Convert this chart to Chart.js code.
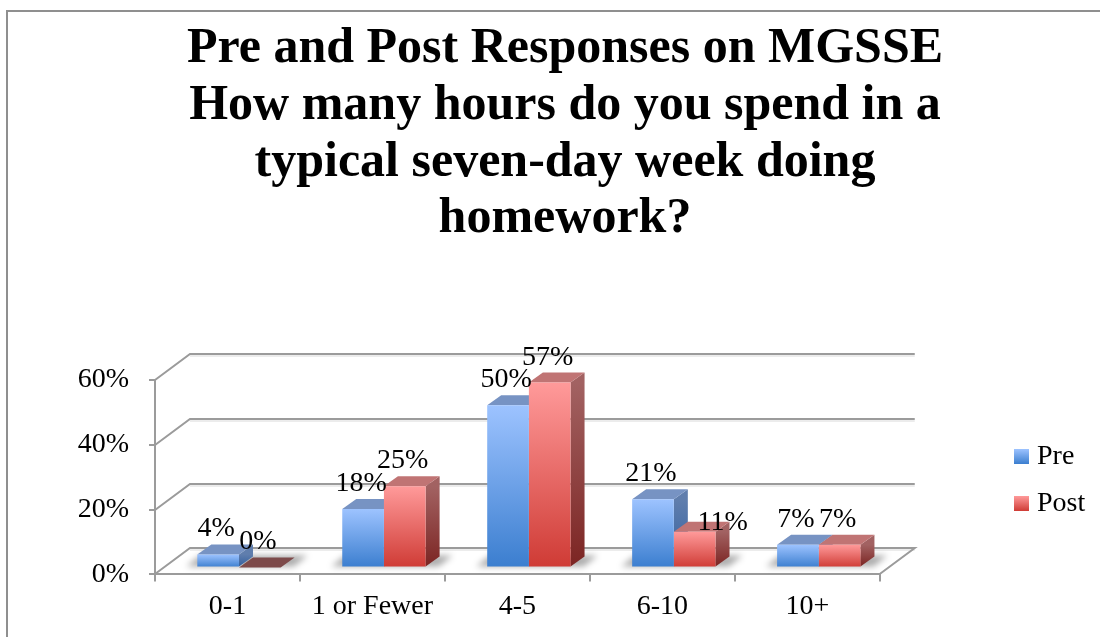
<!DOCTYPE html>
<html><head><meta charset="utf-8">
<style>html,body{margin:0;padding:0;background:#fff;overflow:hidden}canvas{display:block}</style>
<script src="https://cdn.jsdelivr.net/npm/chart.js@4"></script>
</head><body><canvas id="c" width="1100" height="637"></canvas>
<script>
const categories = ['0-1', '1 or Fewer', '4-5', '6-10', '10+'];
const preValues = [4, 18, 50, 21, 7];
const postValues = [0, 25, 57, 11, 7];
const seriesNames = ['Pre', 'Post'];
const yTicks = [0, 20, 40, 60];
const titleLines = ['Pre and Post Responses on MGSSE', 'How many hours do you spend in a', 'typical seven-day week doing', 'homework?'];

const SERIF = '"Liberation Serif", serif';
const LABEL_SIZE = 28;
const AXIS = '#9b9b9b';
const DEPTH = {wx: 35, wy: -26, bx: 11.5, by: -7, fx: 14, fy: -10};
const PAL = [
  {hi:'#9dc3ff', lo:'#3b7ecf', top:'#7793c3', sideHi:'#607ead', sideLo:'#33609f', zero:'#4f6d9f'},
  {hi:'#ff9a9a', lo:'#cf3b35', top:'#c07474', sideHi:'#a26262', sideLo:'#7c2523', zero:'#7d4a4a'}
];
function vGrad(ctx, y0, y1, a, b){const g=ctx.createLinearGradient(0,y0,0,y1);g.addColorStop(0,a);g.addColorStop(1,b);return g;}
function barFill(i){return c=>{
  if(c.type!=='data'||!c.chart.scales.y)return PAL[i].lo;
  const y=c.chart.scales.y;
  const t=y.getPixelForValue(c.raw),b=y.getPixelForValue(0);
  return vGrad(c.chart.ctx,t,Math.max(b,t+1),PAL[i].hi,PAL[i].lo);
};}
function poly(ctx,p,fill){ctx.beginPath();p.forEach((q,i)=>i?ctx.lineTo(q[0],q[1]):ctx.moveTo(q[0],q[1]));ctx.closePath();ctx.fillStyle=fill;ctx.fill();}

const threeD = {
  id:'threeD',
  afterLayout(chart){
    chart.titleBlock.left=30;chart.titleBlock.right=1100;
    const lg=chart.legend;
    lg.left=1001;lg.right=1100;lg.top=423.5;lg.bottom=600;
  },
  beforeDraw(chart){
    const ctx=chart.ctx;
    ctx.save();ctx.strokeStyle='#8f8f8f';ctx.lineWidth=2;ctx.beginPath();
    ctx.moveTo(7,637);ctx.lineTo(7,11);ctx.lineTo(1100,11);ctx.stroke();ctx.restore();
    const lg=chart.legend,pad=lg.options.labels.padding,fs=lg.options.labels.font.size;
    (lg.legendItems||[]).forEach((it,i)=>{
      const cy=lg.top+pad+i*(fs+pad)+fs/2;
      const g=vGrad(ctx,cy-7.5,cy+7.5,PAL[i].hi,PAL[i].lo);
      it.fillStyle=g;it.strokeStyle=g;
    });
    // walls and floor
    const {left,right}=chart.chartArea,ys=chart.scales.y;
    const {wx,wy}=DEPTH;
    ctx.save();ctx.lineWidth=2;
    yTicks.forEach(v=>{
      const y=Math.round(ys.getPixelForValue(v));
      ctx.strokeStyle='#ececec';ctx.beginPath();ctx.moveTo(left+wx,y+wy+2);ctx.lineTo(right+wx,y+wy+2);ctx.stroke();
      ctx.strokeStyle=AXIS;ctx.beginPath();ctx.moveTo(left,y);ctx.lineTo(left+wx,y+wy);ctx.lineTo(right+wx,y+wy);
      if(v===0)ctx.lineTo(right,y);
      ctx.stroke();
    });
    ctx.restore();
  },
  beforeDatasetsDraw(chart){
    const ctx=chart.ctx,{bx,by,fx,fy}=DEPTH;
    ctx.save();ctx.translate(bx,by);
    // soft floor shadow for each category
    const m0=chart.getDatasetMeta(0).data,m1=chart.getDatasetMeta(1).data;
    ctx.save();ctx.filter='blur(3px)';
    m0.forEach((b,i)=>{
      const x0=b.x-b.width/2,x1=m1[i].x+m1[i].width/2,y=b.base;
      poly(ctx,[[x0-11,y],[x0+3,y-11],[x1+27,y-11],[x1+13,y]],'rgba(0,0,0,0.33)');
    });
    ctx.restore();
    [0,1].forEach(d=>{
      chart.getDatasetMeta(d).data.forEach(b=>{
        const r=b.x+b.width/2,l=b.x-b.width/2,t=b.y,base=b.base,p=PAL[d];
        poly(ctx,[[r,t],[r+fx,t+fy],[r+fx,base+fy],[r,base]],vGrad(ctx,t,Math.max(base,t+1),p.sideHi,p.sideLo));
        poly(ctx,[[l,t],[l+fx,t+fy],[r+fx,t+fy],[r,t]],base-t<1?p.zero:p.top);
      });
    });
  },
  afterDatasetsDraw(chart){
    const ctx=chart.ctx;
    [0,1].forEach(d=>{
      const vals=d?postValues:preValues;
      chart.getDatasetMeta(d).data.forEach((b,i)=>{
        ctx.font=LABEL_SIZE+'px '+SERIF;ctx.fillStyle='#000';ctx.textAlign='center';ctx.textBaseline='alphabetic';
        // the "11%" label sits off to the right of its bar in the original
        const nudge=(d===1&&i===3)?[30,16]:[0,0];
        ctx.fillText(vals[i]+'%',b.x-2+nudge[0],b.y-18+nudge[1]);
      });
    });
    ctx.restore();
  }
};

new Chart(document.getElementById('c'),{
  type:'bar',
  data:{labels:categories,datasets:[
    {label:seriesNames[0],data:preValues,backgroundColor:barFill(0),categoryPercentage:0.575,barPercentage:1,clip:false},
    {label:seriesNames[1],data:postValues,backgroundColor:barFill(1),categoryPercentage:0.575,barPercentage:1,clip:false}
  ]},
  plugins:[threeD],
  options:{
    responsive:false,animation:false,
    layout:{padding:{left:0,right:126,top:21,bottom:5}},
    plugins:{
      tooltip:{enabled:false},
      title:{display:true,text:titleLines,color:'#000',padding:{top:0,bottom:132},
        font:{family:SERIF,size:50,weight:'bold',lineHeight:1.134}},
      legend:{position:'right',align:'start',
        labels:{color:'#000',font:{family:SERIF,size:28},padding:19,boxWidth:3,boxHeight:3,
          generateLabels:()=>seriesNames.map((n,i)=>({text:n,fillStyle:PAL[i].lo,strokeStyle:PAL[i].lo,lineWidth:12,datasetIndex:i,hidden:false}))}}
    },
    scales:{
      x:{grid:{color:AXIS,lineWidth:2,drawOnChartArea:false,tickLength:7,tickColor:AXIS},
        border:{color:AXIS,width:2},
        ticks:{color:'#000',font:{family:SERIF,size:28},padding:8.5,maxRotation:0}},
      y:{min:0,max:60,afterFit(s){s.width=155;},
        grid:{color:AXIS,lineWidth:2,drawOnChartArea:false,tickLength:6,tickColor:AXIS},
        border:{color:AXIS,width:2},
        afterBuildTicks(s){s.ticks=yTicks.map(v=>({value:v}));},
        ticks:{color:'#000',font:{family:SERIF,size:28},padding:20,callback:v=>v+'%'}}
    }
  }
});
</script></body></html>
